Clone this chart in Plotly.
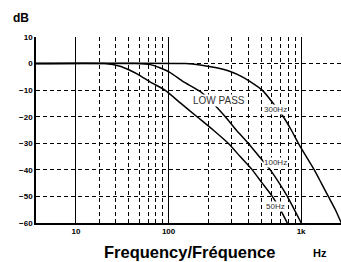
import math
import plotly.graph_objects as go

# ---- data (frequency in Hz, level in dB) ----
f50 = [10, 33, 43, 51, 61, 73, 94, 124, 164, 217, 282, 347, 428, 509, 606, 697, 787]
db50 = [0, 0, -1, -2.5, -4.5, -7, -10, -15, -20, -25, -30, -35, -40, -45, -50, -55, -60]

f100 = [10, 56, 73, 86, 103, 129, 173, 217, 268, 324, 399, 483, 585, 684, 787, 889, 1003]
db100 = [0, 0, -0.4, -1.6, -3.4, -6.8, -10.5, -15, -20, -25, -30, -35, -40, -45, -50, -55, -60]

f300 = [10, 134, 173, 225, 292, 360, 413, 509, 617, 734, 843, 953, 1095, 1258, 1421, 1605, 1813, 2012]
db300 = [0, 0, -0.5, -1.5, -3, -5, -6.8, -10, -15, -20, -25, -30, -35, -40, -45, -50, -55, -60]

x_tickvals = [20, 100, 1000, 2000]
x_ticktext = ["10", "100", "1k", "2k"]
x_minor = [30, 40, 50, 60, 70, 80, 90, 200, 300, 400, 500, 600, 700, 800, 900]
y_tickvals = [10, 0, -10, -20, -30, -40, -50, -60]

labels = ["LOW PASS", "300Hz", "100Hz", "50Hz"]
label_f = [239, 638, 638, 638]
label_db = [-13.9, -17.3, -37.2, -53.8]
label_size = [10, 8, 8, 8]

FONT = "Liberation Sans, Arial, sans-serif"

W, H = 341, 262
ML, MR, MT, MB = 36, 0, 37, 39
pw, ph = W - ML - MR, H - MT - MB


def px2paper(px, py):
    return (px - ML) / pw, (H - MB - py) / ph


fig = go.Figure()
for f, d in [(f50, db50), (f100, db100), (f300, db300)]:
    fig.add_trace(go.Scatter(x=f, y=d, mode="lines",
                             line=dict(color="black", width=1.5, shape="spline", smoothing=0.6),
                             showlegend=False, hoverinfo="skip"))

for t, fx, dy, s in zip(labels, label_f, label_db, label_size):
    fig.add_annotation(x=math.log10(fx), y=dy, xref="x", yref="y", text=t, showarrow=False,
                       font=dict(family=FONT, size=s, color="#333333"),
                       bgcolor="white", borderpad=0)

for t, px, py, s in [("<b>dB</b>", 21, 18, 12),
                     ("<b>Frequency/Fréquence</b>", 189, 252, 16.5),
                     ("<b>Hz</b>", 320, 253, 11)]:
    ax, ay = px2paper(px, py)
    fig.add_annotation(x=ax, y=ay, xref="paper", yref="paper", text=t, showarrow=False,
                       xanchor="center", yanchor="middle",
                       font=dict(family=FONT, size=s, color="black"))

fig.update_layout(
    width=W, height=H,
    margin=dict(l=ML, r=MR, t=MT, b=MB, autoexpand=False),
    plot_bgcolor="white", paper_bgcolor="white",
    font=dict(family=FONT, color="black"),
    xaxis=dict(type="log", range=[1, 3.30103], tickvals=x_tickvals, ticktext=x_ticktext,
               showgrid=True, gridcolor="black", gridwidth=1,
               showline=True, linecolor="black", linewidth=1.5,
               ticks="", tickfont=dict(family=FONT, size=8, weight="bold"),
               minor=dict(tickvals=x_minor, showgrid=True, gridcolor="black",
                          gridwidth=1, griddash="4px,3px", ticks=""),
               zeroline=False, automargin=False),
    yaxis=dict(range=[-60, 10], tickvals=y_tickvals,
               showgrid=True, gridcolor="black", gridwidth=1, griddash="4px,3px",
               showline=True, linecolor="black", linewidth=1.5,
               ticks="", tickfont=dict(family=FONT, size=8, weight="bold"),
               zeroline=False, automargin=False),
)

fig.write_html("out.html", config={"displayModeBar": False},
               post_script="document.body.style.margin='0';")
